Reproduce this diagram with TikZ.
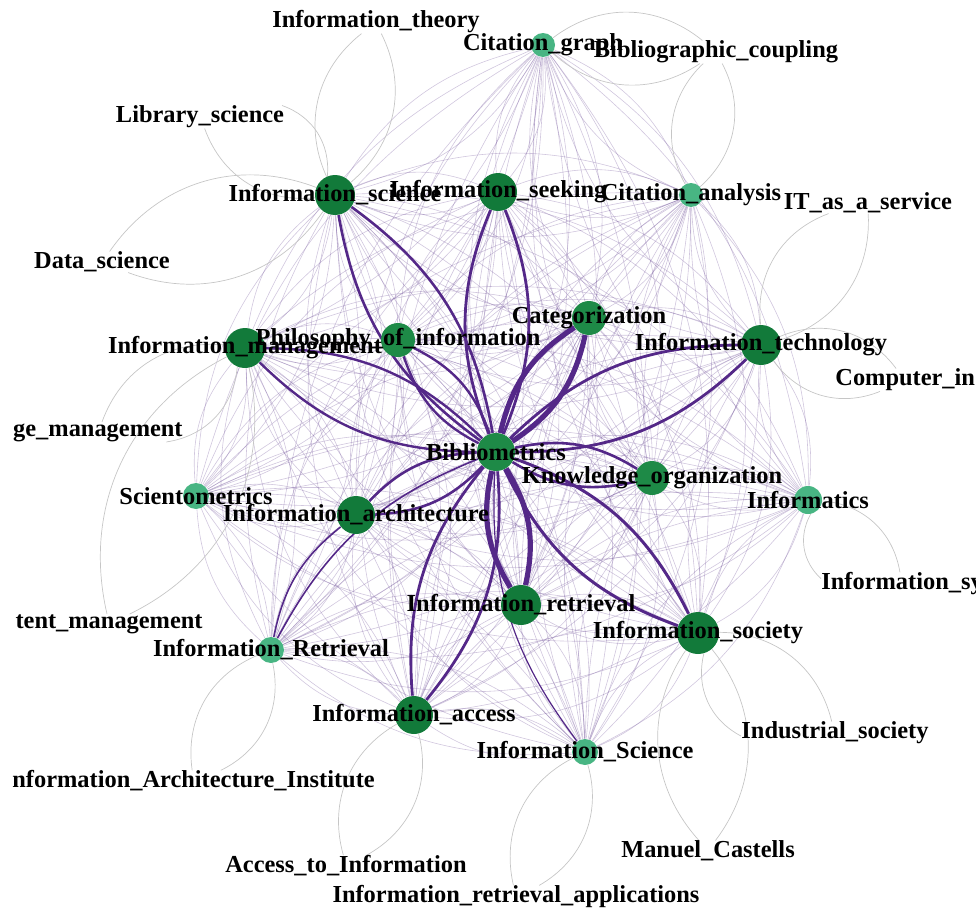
\documentclass[tikz,border=0pt]{standalone}
\usepackage{fontspec}
\setmainfont{Liberation Serif}
\usepackage{tikz}
\usetikzlibrary{backgrounds}
\usepackage{xcolor}

\definecolor{darkgrn}{RGB}{18,122,58}
\definecolor{midgrn}{RGB}{30,138,71}
\definecolor{lightgrn}{RGB}{72,181,131}
\definecolor{linkpurple}{RGB}{84,40,136}
\definecolor{meshpurple}{RGB}{115,85,155}

\begin{document}
\begin{tikzpicture}[x=0.5pt,y=-0.5pt]
  % Styles local to this figure.
  \tikzset{
    hub/.style={circle,inner sep=0pt,minimum size=#1pt,fill=darkgrn},
    mid/.style={circle,inner sep=0pt,minimum size=#1pt,fill=midgrn},
    minor/.style={circle,inner sep=0pt,minimum size=#1pt,fill=lightgrn},
    lbl/.style={inner sep=0pt,font=\fontsize{12.2}{14}\selectfont\bfseries},
    leaf/.style={lbl},
    mesh/.style={draw=meshpurple,line width=0.3pt,opacity=0.33},
    faint/.style={draw=gray!45,line width=0.35pt},
    strong/.style={draw=linkpurple}
  }
  \useasboundingbox (0,0) rectangle (976,910);

  % Topic nodes (radius in px).
  \node[minor=12] (cgraph) at (543,45) {};
  \node[hub=20] (isci) at (335,195) {};
  \node[hub=19] (iseek) at (498,192) {};
  \node[minor=12] (canal) at (691,195) {};
  \node[mid=17] (categ) at (589,318) {};
  \node[hub=20] (itech) at (761,345) {};
  \node[hub=20] (imgmt) at (245,348) {};
  \node[mid=17] (philo) at (398,340) {};
  \node[mid=19] (bib) at (496,452) {};
  \node[mid=17] (korg) at (652,478) {};
  \node[minor=14] (infmt) at (808,500) {};
  \node[minor=13] (scien) at (196,496) {};
  \node[hub=19] (iarch) at (356,515) {};
  \node[hub=20] (retr) at (521,605) {};
  \node[hub=21] (isoc) at (698,633) {};
  \node[minor=13] (retrB) at (271,650) {};
  \node[hub=19] (iacc) at (414,715) {};
  \node[minor=13] (sciB) at (585,752) {};

  % Labels on top of the circles.
  \foreach \n/\t in {cgraph/Citation\_graph, isci/Information\_science,
      iseek/Information\_seeking, canal/Citation\_analysis,
      categ/Categorization, itech/Information\_technology,
      imgmt/Information\_management, philo/Philosophy\_of\_information,
      bib/Bibliometrics, korg/Knowledge\_organization, infmt/Informatics,
      scien/Scientometrics, iarch/Information\_architecture,
      retr/Information\_retrieval, isoc/Information\_society,
      retrB/Information\_Retrieval, iacc/Information\_access,
      sciB/Information\_Science}
    \node[lbl] (\n-t) at (\n) {\t};

  % Leaf terms, shown by their label only.
  \node[leaf] (ltheory) at (376,22) {Information\_theory};
  \node[leaf] (lcoup) at (716,52) {Bibliographic\_coupling};
  \node[leaf] (llib) at (200,117) {Library\_science};
  \node[leaf] (ldata) at (102,262) {Data\_science};
  \node[leaf] (litaas) at (868,203) {IT\_as\_a\_service};
  \node[leaf,anchor=west] (lcomp) at (835,380) {Computer\_in};
  \node[leaf,anchor=east] (lkm) at (183,432) {ge\_management};
  \node[leaf,anchor=west] (lisys) at (821,584) {Information\_sy};
  \node[leaf,anchor=east] (lcm) at (203,624) {tent\_management};
  \node[leaf] (lind) at (835,733) {Industrial\_society};
  \node[leaf,anchor=west] (liai) at (12,781) {nformation\_Architecture\_Institute};
  \node[leaf] (lcast) at (708,851) {Manuel\_Castells};
  \node[leaf] (lati) at (346,866) {Access\_to\_Information};
  \node[leaf] (lira) at (516,897) {Information\_retrieval\_applications};

  \begin{scope}[on background layer]
    % Weak co-occurrence links between all topics.
    \foreach \a [count=\i] in {cgraph,isci,iseek,canal,categ,itech,imgmt,philo,bib,
        korg,infmt,scien,iarch,retr,isoc,retrB,iacc,sciB} {
      \foreach \b [count=\j] in {cgraph,isci,iseek,canal,categ,itech,imgmt,philo,bib,
          korg,infmt,scien,iarch,retr,isoc,retrB,iacc,sciB} {
        \ifnum\j>\i
          \draw[mesh] (\a) to[bend left=22] (\b);
          \draw[mesh] (\b) to[bend left=22] (\a);
        \fi
      }
    }

    % Links to the leaf terms.
    \foreach \a/\b in {ltheory/isci, lcoup/canal, lcoup/cgraph, llib/isci, ldata/isci,
        litaas/itech, lcomp/itech, lkm/imgmt, lcm/imgmt, liai/retrB, lati/iacc,
        lira/sciB, lcast/isoc, lind/isoc, lisys/infmt} {
      \draw[faint] (\a) to[bend left=38] (\b);
      \draw[faint] (\b) to[bend left=38] (\a);
    }

    % Strong links around Bibliometrics.
    \foreach \b/\w in {isci/1.3, iseek/1.4, categ/2.6, itech/1.4, imgmt/1.2,
        philo/1.2, korg/1.3, iarch/1.3, retr/2.6, isoc/1.5, iacc/1.4} {
      \draw[strong,line width=\w pt] (bib) to[bend left=22] (\b);
      \draw[strong,line width=\w pt] (\b) to[bend left=22] (bib);
    }
    \draw[strong,line width=0.8pt] (retrB) to[bend left=20] (bib);
    \draw[strong,line width=0.8pt] (retrB) to[bend left=20] (iarch);
    \draw[strong,line width=0.6pt] (sciB) to[bend left=20] (bib);
  \end{scope}
\end{tikzpicture}
\end{document}
